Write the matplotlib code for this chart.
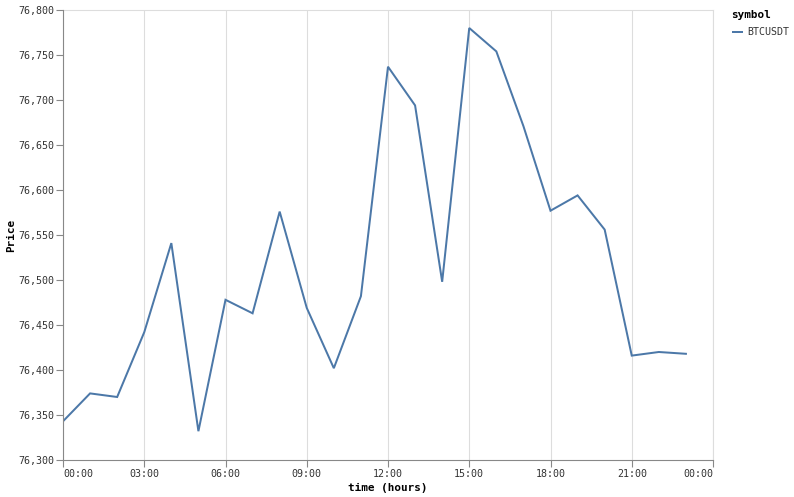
import matplotlib
matplotlib.use("Agg")
import matplotlib.pyplot as plt
from matplotlib.lines import Line2D
from matplotlib.ticker import FuncFormatter, MultipleLocator

hours = list(range(24))
prices = [76343, 76374, 76370, 76442, 76541, 76332, 76478, 76463, 76576, 76469,
          76402, 76482, 76737, 76694, 76498, 76780, 76754, 76671, 76577, 76594,
          76556, 76416, 76420, 76418]
symbol = "BTCUSDT"
x_ticks = [0, 3, 6, 9, 12, 15, 18, 21, 24]
x_tick_labels = ["00:00", "03:00", "06:00", "09:00", "12:00", "15:00", "18:00", "21:00", "00:00"]

W, H = 794, 497
fig = plt.figure(figsize=(W / 100, H / 100), dpi=100)
font = "DejaVu Sans Mono"
px = 0.72  # pt per px

left, right, top, bottom = 63, 713, 10, 460
ax = fig.add_axes([left / W, 1 - bottom / H, (right - left) / W, (bottom - top) / H])

color = "#4c78a8"
ax.plot(hours, prices, color=color, lw=2 * px, solid_joinstyle="miter", zorder=3)
ax.set_xlim(0, 24)
ax.set_ylim(76300, 76800)
ax.yaxis.set_major_locator(MultipleLocator(50))
ax.yaxis.set_major_formatter(FuncFormatter(lambda v, p: f"{int(v):,}"))
ax.set_xticks(x_ticks)
ax.set_xticklabels(x_tick_labels)

ax.grid(True, axis="x", color="#dddddd", lw=0.8)
ax.grid(False, axis="y")
ax.set_axisbelow(True)
for s in ["top", "right"]:
    ax.spines[s].set_color("#dddddd")
    ax.spines[s].set_linewidth(0.8)
for s in ["left", "bottom"]:
    ax.spines[s].set_color("#888888")
    ax.spines[s].set_linewidth(0.8)
    ax.spines[s].set_zorder(4)
ax.tick_params(axis="both", colors="#888888", length=5, width=0.8, labelsize=10 * px,
               labelcolor="#333333")
ax.tick_params(axis="x", pad=1.5)
ax.tick_params(axis="y", pad=1.5)
xl = ax.get_xticklabels()
xl[0].set_horizontalalignment("left")
xl[-1].set_horizontalalignment("right")
for lab in ax.get_xticklabels() + ax.get_yticklabels():
    lab.set_fontfamily(font)

ax.set_xlabel("time (hours)", fontsize=11 * px, fontweight="bold", fontfamily=font, labelpad=3)
ax.set_ylabel("Price", fontsize=11 * px, fontweight="bold", fontfamily=font, labelpad=1)

# legend
fig.text(731 / W, 1 - 15 / H, "symbol", fontsize=11 * px, fontweight="bold", fontfamily=font,
         va="center", ha="left")
fig.add_artist(Line2D([733 / W, 742 / W], [1 - 32 / H, 1 - 32 / H], color=color, lw=2 * px,
                      transform=fig.transFigure))
fig.text(747 / W, 1 - 32 / H, symbol, fontsize=10 * px, fontfamily=font, va="center", ha="left",
         color="#333333")

fig.savefig("out.png", dpi=100)
